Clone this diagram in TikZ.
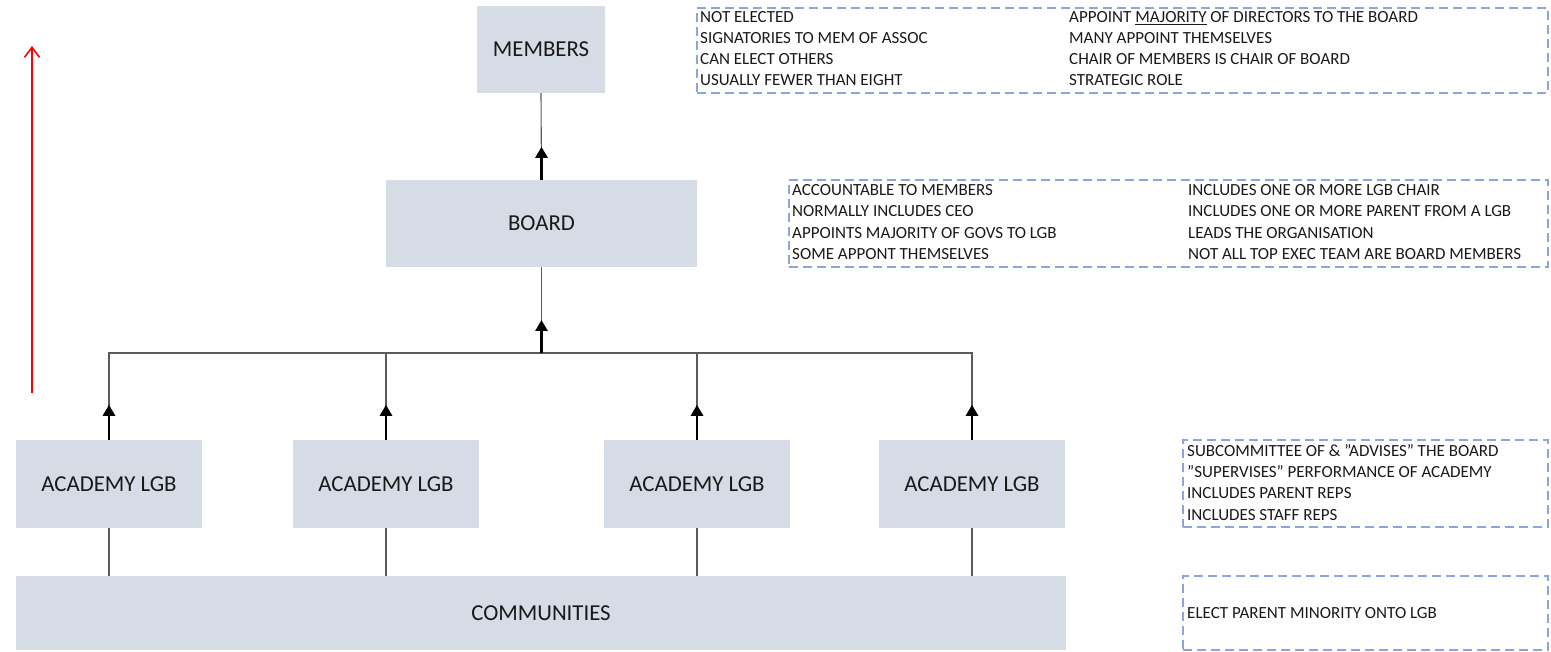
\documentclass[tikz,border=0pt]{standalone}
\usepackage{fontspec}
\setmainfont{Carlito}
\usetikzlibrary{arrows.meta}
\definecolor{boxfill}{RGB}{214,220,229}
\definecolor{dashblue}{RGB}{138,166,220}
\definecolor{linegray}{RGB}{90,90,90}
\newcommand{\sq}{\symbol{34}}
\tikzset{
  orgbox/.style={fill=boxfill, draw=none, inner sep=0pt, font=\fontsize{22.8}{26}\selectfont, text=black!90},
  infobox/.style={draw=dashblue, line width=2.8pt, dash pattern=on 9pt off 5pt, inner sep=0pt},
  infotext/.style={anchor=base west, inner sep=0pt, font=\fontsize{17}{20}\selectfont, text=black!90},
  conn/.style={draw=linegray, line width=1.1pt},
  stub/.style={draw=black, line width=2.8pt, -{Triangle[width=12pt,length=11pt]}},
  redarrow/.style={draw=red, line width=1.6pt, -{Straight Barb[width=15pt,length=10pt,line width=1.6pt]}}
}
\begin{document}
\begin{tikzpicture}[x=1pt,y=-1pt]
\useasboundingbox (0,0) rectangle (1551,652);
% main boxes
\node[orgbox, minimum width=128pt, minimum height=87pt] (members) at (541,49.5) {MEMBERS};
\node[orgbox, minimum width=311pt, minimum height=87pt] (board) at (541.5,223.5) {BOARD};
\node[orgbox, minimum width=186pt, minimum height=88pt] (a1) at (109,484) {ACADEMY LGB};
\node[orgbox, minimum width=186pt, minimum height=88pt] (a2) at (386,484) {ACADEMY LGB};
\node[orgbox, minimum width=186pt, minimum height=88pt] (a3) at (697,484) {ACADEMY LGB};
\node[orgbox, minimum width=186pt, minimum height=88pt] (a4) at (972,484) {ACADEMY LGB};
\node[orgbox, minimum width=1050pt, minimum height=74pt] (comm) at (541,613) {COMMUNITIES};
\coordinate (bus) at (541,353);
% connectors
\draw[conn] (board.north) -- (members.south);
\draw[conn] (board.south) -- (board.south |- bus);
\draw[conn] (a1.north) |- (a4.north |- bus) -- (a4.north);
\draw[conn] (a2.north) -- (a2.north |- bus);
\draw[conn] (a3.north) -- (a3.north |- bus);
\draw[conn] (a1.south) -- (a1.south |- comm.north);
\draw[conn] (a2.south) -- (a2.south |- comm.north);
\draw[conn] (a3.south) -- (a3.south |- comm.north);
\draw[conn] (a4.south) -- (a4.south |- comm.north);
% arrow stubs
\draw[stub] (board.north) -- ++(0,-33);
\draw[stub] (board.south |- bus) -- ++(0,-33);
\draw[stub] (a1.north) -- ++(0,-35);
\draw[stub] (a2.north) -- ++(0,-35);
\draw[stub] (a3.north) -- ++(0,-35);
\draw[stub] (a4.north) -- ++(0,-35);
% red arrow
\coordinate (r1) at (32,393);
\coordinate (r2) at (32,46);
\draw[redarrow] (r1) -- (r2);
% info boxes
\node[infobox, minimum width=851pt, minimum height=85pt] (ia) at (1122.5,50.5) {};
\node[infobox, minimum width=759pt, minimum height=87pt] (ib) at (1168.5,223.5) {};
\node[infobox, minimum width=365pt, minimum height=87pt] (ic) at (1365.5,483.5) {};
\node[infobox, minimum width=365pt, minimum height=74pt] (id) at (1365.5,613) {};
% box A text
\node[infotext] (ta1) at (700,22.5) {NOT ELECTED};
\node[infotext] (ta2) at (700,43.5) {SIGNATORIES TO MEM OF ASSOC};
\node[infotext] (ta3) at (700,64.5) {CAN ELECT OTHERS};
\node[infotext] (ta4) at (700,85.5) {USUALLY FEWER THAN EIGHT};
\node[infotext] (ta5) at (1069,22.5) {APPOINT \underline{MAJORITY} OF DIRECTORS TO THE BOARD};
\node[infotext] (ta6) at (1069,43.5) {MANY APPOINT THEMSELVES};
\node[infotext] (ta7) at (1069,64.5) {CHAIR OF MEMBERS IS CHAIR OF BOARD};
\node[infotext] (ta8) at (1069,85.5) {STRATEGIC ROLE};
% box B text
\node[infotext] (tb1) at (792,195.5) {ACCOUNTABLE TO MEMBERS};
\node[infotext] (tb2) at (792,217) {NORMALLY INCLUDES CEO};
\node[infotext] (tb3) at (792,238.5) {APPOINTS MAJORITY OF GOVS TO LGB};
\node[infotext] (tb4) at (792,260) {SOME APPONT THEMSELVES};
\node[infotext] (tb5) at (1188,195.5) {INCLUDES ONE OR MORE LGB CHAIR};
\node[infotext] (tb6) at (1188,217) {INCLUDES ONE OR MORE PARENT FROM A LGB};
\node[infotext] (tb7) at (1188,238.5) {LEADS THE ORGANISATION};
\node[infotext] (tb8) at (1188,260) {NOT ALL TOP EXEC TEAM ARE BOARD MEMBERS};
% box C text
\node[infotext] (tc1) at (1187,456.5) {SUBCOMMITTEE OF \& \sq ADVISES\sq{} THE BOARD};
\node[infotext] (tc2) at (1187,477.5) {\sq SUPERVISES\sq{} PERFORMANCE OF ACADEMY};
\node[infotext] (tc3) at (1187,498.5) {INCLUDES PARENT REPS};
\node[infotext] (tc4) at (1187,520) {INCLUDES STAFF REPS};
% box D text
\node[infotext] (td1) at (1187,618) {ELECT PARENT MINORITY ONTO LGB};
\end{tikzpicture}
\end{document}
